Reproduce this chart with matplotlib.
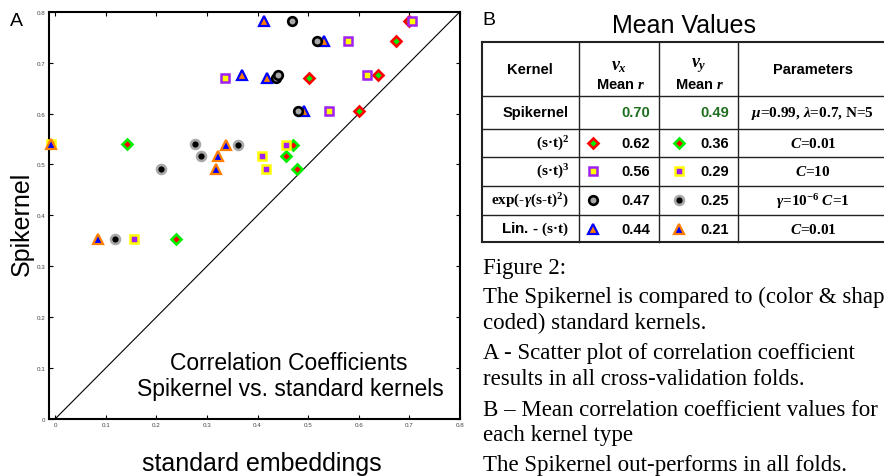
import matplotlib
matplotlib.use("Agg")
import matplotlib.pyplot as plt

plt.rcParams['font.family'] = ['Liberation Sans', 'DejaVu Sans']
plt.rcParams['mathtext.fontset'] = 'custom'
plt.rcParams['mathtext.rm'] = 'Liberation Serif:bold'
plt.rcParams['mathtext.it'] = 'Liberation Serif:italic:bold'
plt.rcParams['mathtext.bf'] = 'Liberation Serif:bold'
plt.rcParams['mathtext.sf'] = 'Liberation Sans:bold'

# Spikernel correlation in each fold (y axis)
spike_vx = [0.782, 0.743, 0.669, 0.676, 0.605]
spike_vy = [0.541, 0.538, 0.516, 0.492, 0.353]

# standard kernels, same folds (x axis)
poly2_vx = [0.699, 0.673, 0.501, 0.638, 0.600]
poly3_vx = [0.705, 0.579, 0.335, 0.617, 0.541]
rbf_vx = [0.468, 0.518, 0.437, 0.440, 0.480]
lin_vx = [0.413, 0.532, 0.419, 0.370, 0.491]

poly2_vy = [0.143, 0.470, 0.456, 0.477, 0.238]
poly3_vy = [-0.008, 0.457, 0.408, 0.416, 0.156]
rbf_vy = [0.276, 0.362, 0.288, 0.210, 0.118]
lin_vy = [-0.009, 0.338, 0.322, 0.317, 0.085]

# table B
spike_mean = [0.70, 0.49]
mean_vx = [0.62, 0.56, 0.47, 0.44]
mean_vy = [0.36, 0.29, 0.25, 0.21]
kernel_labels = [r'(s·t)$^2$', r'(s·t)$^3$', r'exp(-$\gamma$(s-t)$^2$)', r'Lin. - $\mathrm{(s·t)}$']
param_labels = [r'$C$=0.01', r'$C$=10', r'$\gamma$=10$^{-6}$ $C$=1', r'$C$=0.01']
spike_params = r'$\mu$=0.99, $\lambda$=0.7, N=5'

caption = [
    "Figure 2:",
    "The Spikernel is compared to (color & shape",
    "coded) standard kernels.",
    "A - Scatter plot of correlation coefficient",
    "results in all cross-validation folds.",
    "B \u2013 Mean correlation coefficient values for",
    "each kernel type",
    "The Spikernel out-performs in all folds.",
]

RED, GREEN = '#ff0000', '#00ee00'
PURPLE, YELLOW = '#a020f0', '#ffff00'
BLACK, GRAY = '#000000', '#a8a8a8'
BLUE, ORANGE = '#0000ff', '#ff7f00'

sty = {
    'p2x': dict(marker='D', ms=5.2, mec=RED, mfc=GREEN, mew=1.9),
    'p2y': dict(marker='D', ms=5.2, mec=GREEN, mfc=RED, mew=1.9),
    'p3x': dict(marker='s', ms=5.8, mec=PURPLE, mfc=YELLOW, mew=1.8),
    'p3y': dict(marker='s', ms=5.8, mec=YELLOW, mfc=PURPLE, mew=1.8),
    'rbx': dict(marker='o', ms=6.2, mec=BLACK, mfc=GRAY, mew=1.9),
    'rby': dict(marker='o', ms=6.4, mec=GRAY, mfc=BLACK, mew=1.9),
    'lnx': dict(marker='^', ms=6.8, mec=BLUE, mfc=ORANGE, mew=1.6),
    'lny': dict(marker='^', ms=6.8, mec=ORANGE, mfc=BLUE, mew=1.6),
}

W, H = 884, 477
fig = plt.figure(figsize=(W / 100, H / 100), dpi=100)

# ---- panel A scatter
ax = fig.add_axes([49 / W, 1 - 420 / H, (460 - 49) / W, (420 - 12.7) / H])
ax.set_xlim(-0.012, 0.8)
ax.set_ylim(0, 0.8)
ax.plot([0, 0.8], [0, 0.8], color='black', lw=0.8, zorder=1)

series = [
    (poly2_vy, spike_vy, 'p2y'),
    (poly2_vx, spike_vx, 'p2x'),
    (lin_vx, spike_vx, 'lnx'),
    (poly3_vx, spike_vx, 'p3x'),
    (poly3_vy, spike_vy, 'p3y'),
    (lin_vy, spike_vy, 'lny'),
    (rbf_vx, spike_vx, 'rbx'),
    (rbf_vy, spike_vy, 'rby'),
]
for i, (xs, ys, key) in enumerate(series):
    ax.plot(xs, ys, ls='none', clip_on=False, zorder=3 + i, **sty[key])

ticks = [0, 0.1, 0.2, 0.3, 0.4, 0.5, 0.6, 0.7, 0.8]
tick_labels = ['0', '0.1', '0.2', '0.3', '0.4', '0.5', '0.6', '0.7', '0.8']
ax.set_xticks(ticks)
ax.set_xticklabels(tick_labels)
ax.set_yticks(ticks)
ax.set_yticklabels(tick_labels)
ax.tick_params(direction='in', length=3, width=0.8, labelsize=4.5,
               labelcolor='#444444', top=True, right=True, pad=2.5)
for s in ax.spines.values():
    s.set_linewidth(1.5)

# ---- overlay in pixel coordinates for labels, table and caption
ov = fig.add_axes([0, 0, 1, 1])
ov.set_xlim(0, W)
ov.set_ylim(H, 0)
ov.patch.set_alpha(0)
ov.axis('off')
ov.set_zorder(5)

ov.text(10, 26, 'A', fontsize=14, va='baseline')
ov.text(22, 224, 'Spikernel', fontsize=18, rotation=90, ha='center', va='center')
ov.text(262, 464, 'standard embeddings', fontsize=18, ha='center', va='center')
ov.text(289, 370, 'Correlation Coefficients', fontsize=16.5, ha='center', va='baseline')
ov.text(290, 396, 'Spikernel vs. standard kernels', fontsize=16.5, ha='center', va='baseline')

ov.text(482, 25, 'B', fontsize=14, va='baseline')
ov.text(684, 26, 'Mean Values', fontsize=18, ha='center', va='center')

# table grid
col_x = [481.7, 579, 659, 738.3, 888]
row_y = [43.3, 96.7, 130, 157.7, 186.7, 216, 243.3]
for j, y in enumerate(row_y):
    lw = 1.5 if j in (0, len(row_y) - 1) else 1.0
    ov.plot([col_x[0], col_x[-1]], [y, y], color='#222222', lw=lw)
for j, x in enumerate(col_x):
    lw = 1.5 if j in (0, len(col_x) - 1) else 1.0
    ov.plot([x, x], [row_y[0], row_y[-1]], color='#222222', lw=lw)

hy = (row_y[0] + row_y[1]) / 2
ov.text(530, hy, 'Kernel', fontsize=10.5, fontweight='bold', ha='center', va='center')
ov.text(619, 66, r'$v_x$', fontsize=13, ha='center', va='center')
ov.text(620, 85, r'$\mathsf{Mean}\ r$', fontsize=10.5, ha='center', va='center')
ov.text(698.5, 66, r'$v_y$', fontsize=13, ha='center', va='center')
ov.text(699, 85, r'$\mathsf{Mean}\ r$', fontsize=10.5, ha='center', va='center')
ov.text(813, hy, 'Parameters', fontsize=10.5, fontweight='bold', ha='center', va='center')

sy = (row_y[1] + row_y[2]) / 2
ov.text(569, sy, 'Spikernel', fontsize=10.5, fontweight='bold', ha='right', va='center')
ov.text(650, sy, '%.2f' % spike_mean[0], fontsize=10.5, fontweight='bold',
        color='#1e6e1e', ha='right', va='center')
ov.text(729, sy, '%.2f' % spike_mean[1], fontsize=10.5, fontweight='bold',
        color='#1e6e1e', ha='right', va='center')
ov.text(813, sy, spike_params, fontsize=11, family='Liberation Serif',
        fontweight='bold', ha='center', va='center')

keys = [('p2x', 'p2y'), ('p3x', 'p3y'), ('rbx', 'rby'), ('lnx', 'lny')]
for i in range(4):
    yc = (row_y[i + 2] + row_y[i + 3]) / 2
    fam = 'Liberation Sans' if i == 3 else 'Liberation Serif'
    ov.text(569, yc, kernel_labels[i], fontsize=11, family=fam,
            fontweight='bold', ha='right', va='center')
    ov.plot([592.7], [yc], ls='none', **sty[keys[i][0]])
    ov.plot([679.3], [yc], ls='none', **sty[keys[i][1]])
    ov.text(650, yc, '%.2f' % mean_vx[i], fontsize=10.5, fontweight='bold',
            ha='right', va='center')
    ov.text(729, yc, '%.2f' % mean_vy[i], fontsize=10.5, fontweight='bold',
            ha='right', va='center')
    ov.text(813, yc, param_labels[i], fontsize=11, family='Liberation Serif',
            fontweight='bold', ha='center', va='center')

# caption
cap_y = [274, 303, 329, 359, 385, 416, 441, 471]
for line, y in zip(caption, cap_y):
    ov.text(483.3, y, line, fontsize=16.5, family='Liberation Serif', va='baseline')

fig.savefig('out.png', dpi=100)
